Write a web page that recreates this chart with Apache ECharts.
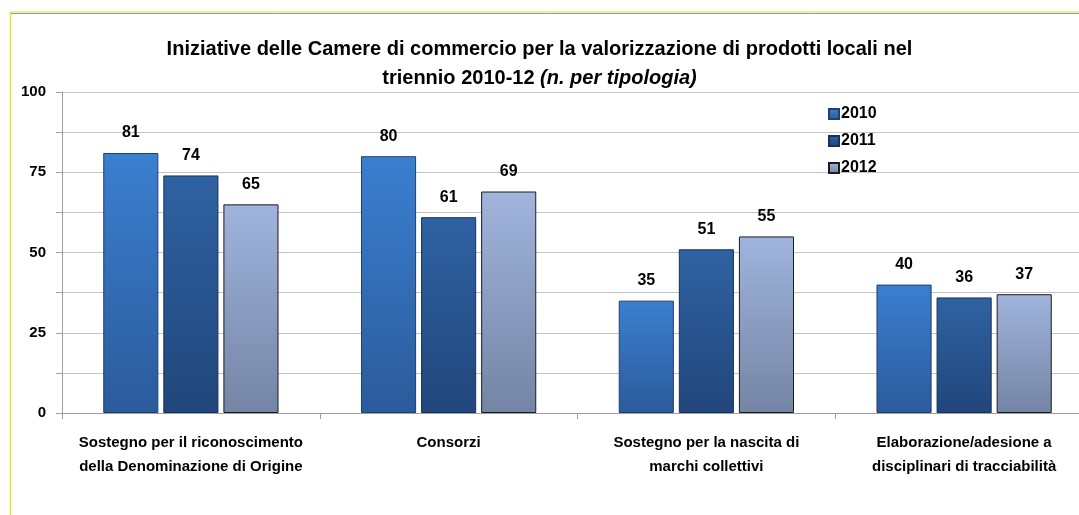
<!DOCTYPE html>
<html>
<head>
<meta charset="utf-8">
<script src="https://cdn.jsdelivr.net/npm/echarts@6/dist/echarts.min.js"></script>
<style>
  html, body { margin: 0; padding: 0; background: #fff; }
  #chart { width: 1079px; height: 515px; }
</style>
</head>
<body>
<div id="chart"></div>
<script>
// dati
const categories = [
  'Sostegno per il riconoscimento\ndella Denominazione di Origine',
  'Consorzi',
  'Sostegno per la nascita di\nmarchi collettivi',
  'Elaborazione/adesione a\ndisciplinari di tracciabilità'
];
const years = ['2010', '2011', '2012'];
const values2010 = [81, 80, 35, 40];
const values2011 = [74, 61, 51, 36];
const values2012 = [65, 69, 55, 37];
const yTicks = [0, 25, 50, 75, 100];

const FONT = '"Liberation Sans", Arial, sans-serif';

const grad = (top, bottom) => ({
  type: 'linear', x: 0, y: 0, x2: 0, y2: 1,
  colorStops: [{ offset: 0, color: top }, { offset: 1, color: bottom }]
});

const styles = [
  { fill: grad('#3b7fd0', '#2b5b9b'), border: '#1f3f6e' },
  { fill: grad('#2f62a3', '#21467b'), border: '#17325a' },
  { fill: grad('#a0b4dd', '#7484a4'), border: '#1c1c1c' }
];

const seriesData = [values2010, values2011, values2012];

const chart = echarts.init(document.getElementById('chart'));

chart.setOption({
  animation: false,
  textStyle: { fontFamily: FONT },
  title: {
    text: '{b|Iniziative delle Camere di commercio per la valorizzazione di prodotti locali nel}\n{b|triennio 2010-12 }{i|(n. per tipologia)}',
    left: 'center',
    top: 30,
    textStyle: {
      rich: {
        b: { fontFamily: FONT, fontWeight: 'bold', fontSize: 20, color: '#000', lineHeight: 29 },
        i: { fontFamily: FONT, fontWeight: 'bold', fontStyle: 'italic', fontSize: 20, color: '#000', lineHeight: 29 }
      }
    }
  },
  legend: {
    orient: 'vertical',
    left: 823,
    top: 101,
    icon: 'rect',
    itemWidth: 10,
    itemHeight: 10,
    itemGap: 11,
    data: years,
    textStyle: { fontFamily: FONT, fontWeight: 'bold', fontSize: 16, color: '#000', padding: [0, 0, 0, -3] }
  },
  grid: { left: 62, width: 1031, top: 92, bottom: 102, outerBoundsMode: 'none', containLabel: false },
  xAxis: {
    type: 'category',
    data: categories,
    axisLine: { lineStyle: { color: '#a0a0a0' } },
    axisTick: { show: true, length: 6, lineStyle: { color: '#a0a0a0' } },
    axisLabel: {
      fontFamily: FONT, fontWeight: 'bold', fontSize: 15, color: '#000',
      lineHeight: 24, margin: 18, interval: 0
    }
  },
  yAxis: {
    type: 'value',
    min: 0,
    max: 100,
    interval: 12.5,
    axisLine: { show: true, lineStyle: { color: '#a0a0a0' } },
    axisTick: { show: true, length: 6, lineStyle: { color: '#a0a0a0' } },
    splitLine: { lineStyle: { color: '#c4c4c4' } },
    axisLabel: {
      fontFamily: FONT, fontWeight: 'bold', fontSize: 15, color: '#000', margin: 16,
      formatter: v => (yTicks.includes(v) ? String(v) : '')
    }
  },
  series: years.map((y, i) => ({
    name: y,
    type: 'bar',
    data: seriesData[i],
    barGap: '9%',
    barCategoryGap: '32%',
    itemStyle: { color: styles[i].fill, borderColor: styles[i].border, borderWidth: 1 },
    label: {
      show: true, position: 'top', distance: 12,
      fontFamily: FONT, fontWeight: 'bold', fontSize: 16, color: '#000'
    }
  })),
  graphic: [
    { type: 'line', silent: true, shape: { x1: 10, y1: 12, x2: 1079, y2: 12 }, style: { stroke: '#e4e43c', lineWidth: 1 } },
    { type: 'line', silent: true, shape: { x1: 10, y1: 13.5, x2: 1079, y2: 13.5 }, style: { stroke: '#9a9a9a', lineWidth: 1 } },
    { type: 'line', silent: true, shape: { x1: 10.5, y1: 12, x2: 10.5, y2: 515 }, style: { stroke: '#e4e43c', lineWidth: 1.5 } }
  ]
});
</script>
</body>
</html>
